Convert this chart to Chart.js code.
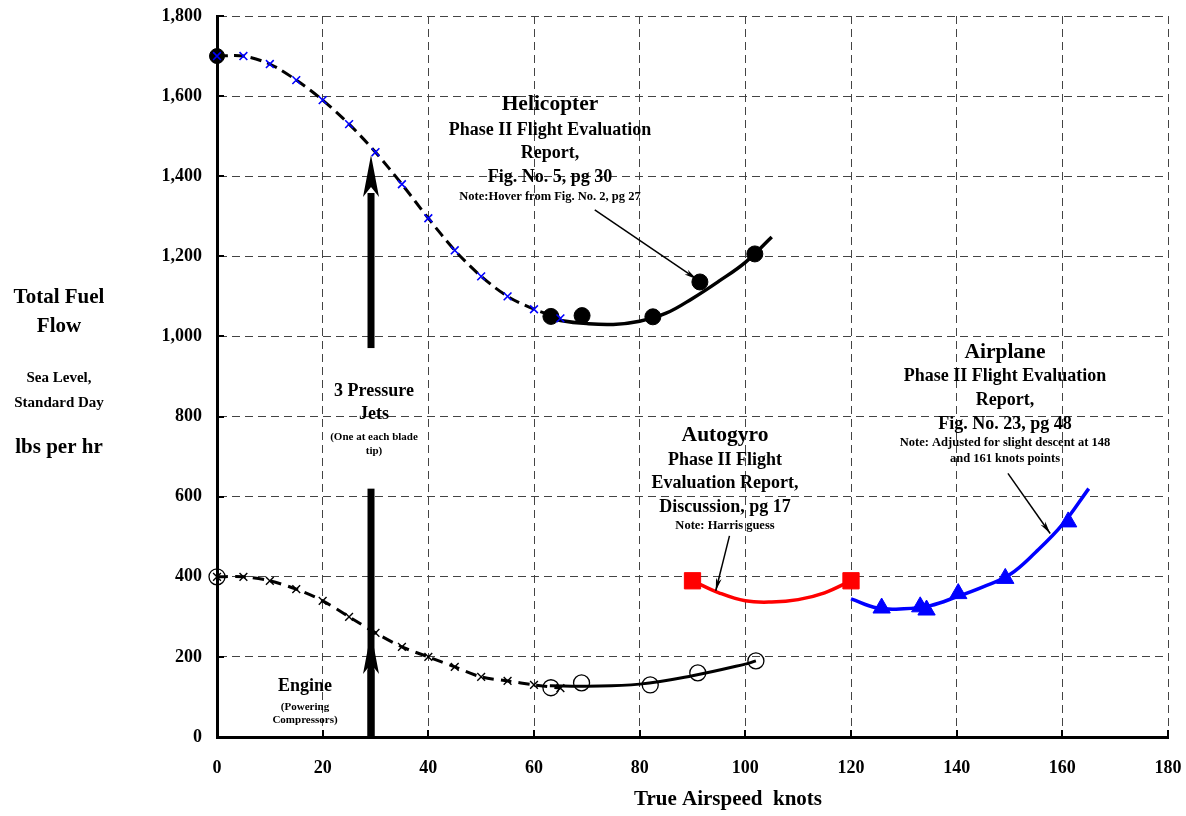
<!DOCTYPE html>
<html>
<head>
<meta charset="utf-8">
<title>Total Fuel Flow vs True Airspeed</title>
<script src="https://cdn.jsdelivr.net/npm/chart.js@4.4.1/dist/chart.umd.min.js"></script>
<style>
    html, body { margin: 0; padding: 0; background: #fff; }
</style>
</head>
<body>
<canvas id="chart" width="1186" height="816"></canvas>
<script>
'use strict';

// airspeed in knots, fuel flow in lbs per hr
const hoverSpeeds = [0, 5, 10, 15, 20, 25, 30, 35, 40, 45, 50, 55, 60, 65];
const heliHoverFuel = [1700, 1700, 1680, 1640, 1590, 1530, 1460, 1380, 1295, 1215, 1150, 1100, 1068, 1045];
const engineHoverFuel = [400, 400, 390, 369, 340, 300, 260, 225, 200, 175, 150, 140, 130, 122];

const heliFlightSpeeds = [63.2, 69.1, 82.5, 91.4, 101.8];
const heliFlightFuel = [1050, 1052, 1049, 1136, 1206];
const engineFlightSpeeds = [63.2, 69, 82, 91, 102];
const engineFlightFuel = [123, 135, 130, 160, 190];

const heliFitSpeeds = [63, 65, 70, 75, 80, 85, 90, 95, 100, 105];
const heliFitFuel = [1048, 1040, 1032, 1030, 1038, 1058, 1095, 1138, 1185, 1248];
const engineFitSpeeds = [63, 70, 80, 90, 100, 102];
const engineFitFuel = [128, 127, 132, 153, 182, 190];

const gyroSpeeds = [90, 120];
const gyroFuel = [390, 390];
const gyroFitSpeeds = [90, 95, 100, 105, 110, 115, 120];
const gyroFitFuel = [390, 360, 340, 337, 343, 360, 390];

const planeSpeeds = [125.8, 133.1, 134.3, 140.3, 149.2, 161.1];
const planeFuel = [322, 325, 317, 358, 396, 537];
const planeFitSpeeds = [120, 125, 130, 135, 140, 145, 150, 155, 160, 165];
const planeFitFuel = [345, 322, 320, 328, 350, 375, 405, 462, 530, 620];

const xTicks = [0, 20, 40, 60, 80, 100, 120, 140, 160, 180];
const yTicks = [0, 200, 400, 600, 800, 1000, 1200, 1400, 1600, 1800];

// thick arrows (knots, lbs per hr): shaft from .. to, head tip
const jetArrow = { x: 29.15, from: 971, tip: 1453 };
const engineArrow = { x: 29.15, from: 620, to: 0, tip: 262 };

// note arrows: [x1, y1, x2, y2] in data units, pointing to the second point
const noteArrows = [
    [71.5, 1316, 90.8, 1143],
    [97.0, 502, 94.4, 365],
    [149.7, 658, 157.7, 508]
];

function pairs(xs, ys) {
    return xs.map((x, i) => ({ x: x, y: ys[i] }));
}

const SERIF = '"Liberation Serif", "Times New Roman", serif';
Chart.defaults.font.family = SERIF;
Chart.defaults.font.weight = 'bold';
Chart.defaults.color = '#000';

function font(size) {
    return 'bold ' + size + 'px ' + SERIF;
}

const textBlocks = [
    { x: 550, lines: [['Helicopter', 21.5, 104], ['Phase II Flight Evaluation', 18, 130], ['Report,', 18, 153],
        ['Fig. No. 5, pg 30', 18, 177], ['Note:Hover from Fig. No. 2, pg 27', 12.5, 197]] },
    { x: 725, lines: [['Autogyro', 21.5, 435], ['Phase II Flight', 18, 460], ['Evaluation Report,', 18, 483],
        ['Discussion, pg 17', 18, 507], ['Note: Harris guess', 12.5, 526]] },
    { x: 1005, lines: [['Airplane', 21.5, 352], ['Phase II Flight Evaluation', 18, 376], ['Report,', 18, 400],
        ['Fig. No. 23, pg 48', 18, 424], ['Note: Adjusted for slight descent at 148', 12.5, 443],
        ['and 161 knots points', 12.5, 459]] },
    { x: 374, lines: [['3 Pressure', 18, 391], ['Jets', 18, 414], ['(One at each blade', 11, 437], ['tip)', 11, 451]] },
    { x: 305, lines: [['Engine', 18, 686], ['(Powering', 11, 707], ['Compressors)', 11, 720]] },
    { x: 59, lines: [['Total Fuel', 21, 298], ['Flow', 21, 327], ['Sea Level,', 15, 378], ['Standard Day', 15, 403],
        ['lbs per hr', 21, 448]] },
    { x: 728, lines: [['True Airspeed  knots', 21, 800]] }
];

function drawThickArrow(ctx, x, yBase, yTip) {
    const dir = yTip < yBase ? 1 : -1;
    const headLen = 42;
    const half = 8;
    ctx.fillRect(x - 3.5, Math.min(yBase, yTip + dir * headLen - dir * 4), 7, Math.abs(yBase - (yTip + dir * headLen)) + 4);
    ctx.beginPath();
    ctx.moveTo(x, yTip);
    ctx.lineTo(x + half, yTip + dir * headLen);
    ctx.lineTo(x, yTip + dir * (headLen - 10));
    ctx.lineTo(x - half, yTip + dir * headLen);
    ctx.closePath();
    ctx.fill();
}

const arrowPlugin = {
    id: 'arrows',
    beforeDatasetsDraw(chart) {
        const ctx = chart.ctx;
        const xs = chart.scales.x;
        const ys = chart.scales.y;
        ctx.save();
        ctx.fillStyle = '#000';
        const jx = xs.getPixelForValue(jetArrow.x);
        drawThickArrow(ctx, jx, ys.getPixelForValue(jetArrow.from), ys.getPixelForValue(jetArrow.tip));
        const ex = xs.getPixelForValue(engineArrow.x);
        const eTop = ys.getPixelForValue(engineArrow.from);
        const eBot = ys.getPixelForValue(engineArrow.to);
        ctx.fillRect(ex - 3.5, eTop, 7, eBot - eTop);
        drawThickArrow(ctx, ex, eBot, ys.getPixelForValue(engineArrow.tip));
        ctx.restore();
    }
};

const notesPlugin = {
    id: 'notes',
    afterDraw(chart) {
        const ctx = chart.ctx;
        const xs = chart.scales.x;
        const ys = chart.scales.y;
        const area = chart.chartArea;
        ctx.save();

        // short tick marks on the inside of both axes
        ctx.strokeStyle = '#000';
        ctx.lineWidth = 2;
        ctx.beginPath();
        yTicks.forEach(v => {
            const y = Math.round(ys.getPixelForValue(v));
            ctx.moveTo(area.left, y);
            ctx.lineTo(area.left + 7, y);
        });
        xTicks.forEach(v => {
            const x = Math.round(xs.getPixelForValue(v));
            ctx.moveTo(x, area.bottom);
            ctx.lineTo(x, area.bottom - 7);
        });
        ctx.stroke();

        // thin note arrows
        ctx.lineWidth = 1.5;
        ctx.fillStyle = '#000';
        noteArrows.forEach(a => {
            const x1 = xs.getPixelForValue(a[0]);
            const y1 = ys.getPixelForValue(a[1]);
            const x2 = xs.getPixelForValue(a[2]);
            const y2 = ys.getPixelForValue(a[3]);
            const ang = Math.atan2(y2 - y1, x2 - x1);
            ctx.beginPath();
            ctx.moveTo(x1, y1);
            ctx.lineTo(x2, y2);
            ctx.stroke();
            ctx.beginPath();
            ctx.moveTo(x2, y2);
            ctx.lineTo(x2 - 13 * Math.cos(ang - 0.22), y2 - 13 * Math.sin(ang - 0.22));
            ctx.lineTo(x2 - 9 * Math.cos(ang), y2 - 9 * Math.sin(ang));
            ctx.lineTo(x2 - 13 * Math.cos(ang + 0.22), y2 - 13 * Math.sin(ang + 0.22));
            ctx.closePath();
            ctx.fill();
        });

        // text blocks
        ctx.textAlign = 'center';
        ctx.textBaseline = 'middle';
        textBlocks.forEach(b => {
            b.lines.forEach(l => {
                ctx.font = font(l[1]);
                ctx.fillText(l[0], b.x, l[2]);
            });
        });
        ctx.restore();
    }
};

const canvasEl = document.getElementById('chart');

new Chart(canvasEl, {
    type: 'scatter',
    data: {
        datasets: [{
            label: 'Helicopter hover (start)',
            data: pairs([hoverSpeeds[0]], [heliHoverFuel[0]]),
            pointStyle: 'circle',
            pointRadius: 7.5,
            pointBackgroundColor: '#000',
            pointBorderColor: '#000',
            showLine: false,
            order: 3
        }, {
            label: 'Helicopter hover',
            data: pairs(hoverSpeeds, heliHoverFuel),
            showLine: true,
            borderColor: '#000',
            borderWidth: 3,
            borderDash: [11, 6],
            tension: 0.3,
            pointStyle: 'crossRot',
            pointRadius: 5.5,
            pointBorderColor: '#0000ff',
            pointBorderWidth: 1.6,
            order: 1
        }, {
            label: 'Helicopter flight',
            data: pairs(heliFlightSpeeds, heliFlightFuel),
            pointStyle: 'circle',
            pointRadius: 8,
            pointBackgroundColor: '#000',
            pointBorderColor: '#000',
            showLine: false,
            order: 2
        }, {
            label: 'Helicopter fit',
            data: pairs(heliFitSpeeds, heliFitFuel),
            showLine: true,
            borderColor: '#000',
            borderWidth: 3.5,
            tension: 0.4,
            pointRadius: 0,
            order: 5
        }, {
            label: 'Engine hover (start)',
            data: pairs([hoverSpeeds[0]], [engineHoverFuel[0]]),
            pointStyle: 'circle',
            pointRadius: 8,
            pointBackgroundColor: 'rgba(0,0,0,0)',
            pointBorderColor: '#000',
            pointBorderWidth: 1.3,
            showLine: false,
            order: 2
        }, {
            label: 'Engine hover',
            data: pairs(hoverSpeeds, engineHoverFuel),
            showLine: true,
            borderColor: '#000',
            borderWidth: 3,
            borderDash: [11, 7],
            tension: 0.3,
            pointStyle: 'crossRot',
            pointRadius: 5.5,
            pointBorderColor: '#000',
            pointBorderWidth: 1.4,
            order: 1
        }, {
            label: 'Engine flight',
            data: pairs(engineFlightSpeeds, engineFlightFuel),
            pointStyle: 'circle',
            pointRadius: 8,
            pointBackgroundColor: 'rgba(0,0,0,0)',
            pointBorderColor: '#000',
            pointBorderWidth: 1.3,
            showLine: false,
            order: 2
        }, {
            label: 'Engine fit',
            data: pairs(engineFitSpeeds, engineFitFuel),
            showLine: true,
            borderColor: '#000',
            borderWidth: 3,
            tension: 0.4,
            pointRadius: 0,
            order: 5
        }, {
            label: 'Autogyro',
            data: pairs(gyroSpeeds, gyroFuel),
            pointStyle: 'rect',
            pointRadius: 11.5,
            pointBackgroundColor: '#ff0000',
            pointBorderColor: '#ff0000',
            showLine: false,
            order: 2
        }, {
            label: 'Autogyro fit',
            data: pairs(gyroFitSpeeds, gyroFitFuel),
            showLine: true,
            borderColor: '#ff0000',
            borderWidth: 3.5,
            tension: 0.4,
            pointRadius: 0,
            order: 5
        }, {
            label: 'Airplane',
            data: pairs(planeSpeeds, planeFuel),
            pointStyle: 'triangle',
            pointRadius: 10,
            pointBackgroundColor: '#0000ff',
            pointBorderColor: '#0000ff',
            showLine: false,
            order: 2
        }, {
            label: 'Airplane fit',
            data: pairs(planeFitSpeeds, planeFitFuel),
            showLine: true,
            borderColor: '#0000ff',
            borderWidth: 3.5,
            tension: 0.4,
            pointRadius: 0,
            order: 5
        }]
    },
    options: {
        responsive: false,
        animation: false,
        clip: false,
        layout: { padding: { left: 0, right: 18, top: 16, bottom: 0 } },
        plugins: {
            legend: { display: false },
            tooltip: { enabled: false }
        },
        scales: {
            x: {
                type: 'linear',
                min: 0,
                max: 180,
                afterBuildTicks: scale => { scale.ticks = xTicks.map(v => ({ value: v })); },
                afterFit: scale => {
                    scale.height = 79;
                    scale.paddingLeft = 0;
                    scale.paddingRight = 0;
                },
                ticks: { font: { size: 18, weight: 'bold' }, color: '#000', padding: 21 },
                grid: { color: '#444', lineWidth: 1, drawTicks: false },
                border: { display: true, color: '#000', width: 3, dash: [8, 5] }
            },
            y: {
                type: 'linear',
                min: 0,
                max: 1800,
                afterBuildTicks: scale => { scale.ticks = yTicks.map(v => ({ value: v })); },
                afterFit: scale => {
                    scale.width = 217;
                    scale.paddingTop = 0;
                    scale.paddingBottom = 0;
                },
                ticks: {
                    font: { size: 18, weight: 'bold' },
                    color: '#000',
                    padding: 15,
                    callback: v => v.toLocaleString('en-US')
                },
                grid: { color: '#444', lineWidth: 1, drawTicks: false },
                border: { display: true, color: '#000', width: 3, dash: [8, 5] }
            }
        }
    },
    plugins: [arrowPlugin, notesPlugin]
});
</script>
</body>
</html>
